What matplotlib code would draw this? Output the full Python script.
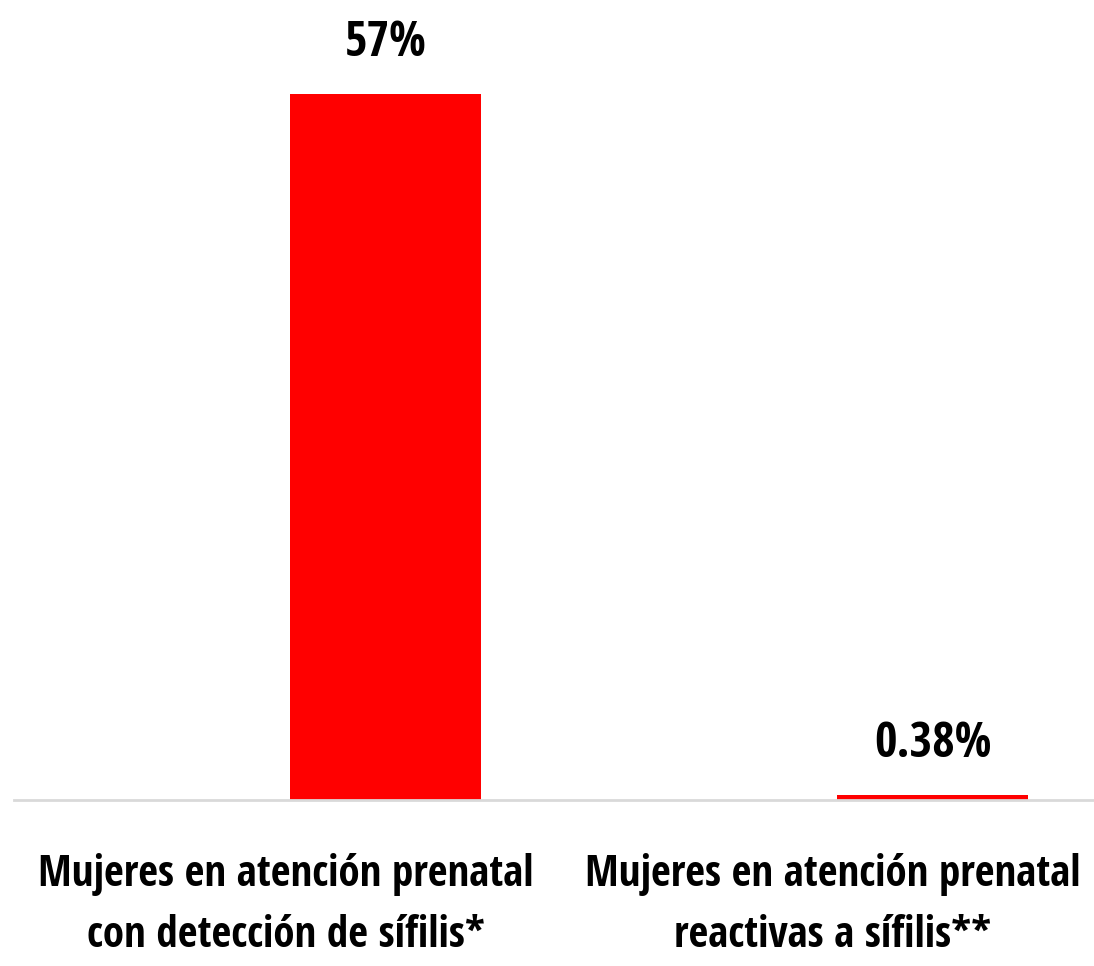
import matplotlib
matplotlib.use("Agg")
import matplotlib.pyplot as plt
from matplotlib import font_manager
from matplotlib.transforms import ScaledTranslation

# datos
categorias = ["Mujeres en atención prenatal\ncon detección de sífilis*",
              "Mujeres en atención prenatal\nreactivas a sífilis**"]
valores = [57, 0.38]
etiquetas = ["57%", "0.38%"]

# fuente angosta tipo Calibri en negrita
nombres = {f.name for f in font_manager.fontManager.ttflist}
familia = "Open Sans Condensed" if "Open Sans Condensed" in nombres else "DejaVu Sans"
plt.rcParams["font.family"] = [familia, "DejaVu Sans"]

fig = plt.figure(figsize=(10.94, 9.66), dpi=100)
ax = fig.add_axes([14 / 1094, 166 / 966, 1 - 14 / 1094, 800 / 966])

x = range(len(categorias))
barras = ax.bar(x, valores, width=0.35, color="#FF0000")

for b, txt in zip(barras, etiquetas):
    ax.text(b.get_x() + b.get_width() / 2, b.get_height() + 2.1, txt,
            ha="center", va="bottom", fontsize=35, fontweight="bold")

ax.set_xlim(-0.679, 1.295)
ax.set_ylim(0, 64.6)
ax.set_xticks(list(x))
ax.set_xticklabels(categorias, fontsize=31, fontweight="bold", linespacing=1.55)
ax.tick_params(axis="x", length=0, pad=38)
# las etiquetas del original quedan corridas a la izquierda de las barras
desplaza = ScaledTranslation(-100 / 100, 0, fig.dpi_scale_trans)
for lbl in ax.get_xticklabels():
    lbl.set_transform(lbl.get_transform() + desplaza)
ax.set_yticks([])
for lado in ["top", "right", "left"]:
    ax.spines[lado].set_visible(False)
ax.spines["bottom"].set_color("#D9D9D9")
ax.spines["bottom"].set_linewidth(2)

fig.savefig("out.png", dpi=100)
